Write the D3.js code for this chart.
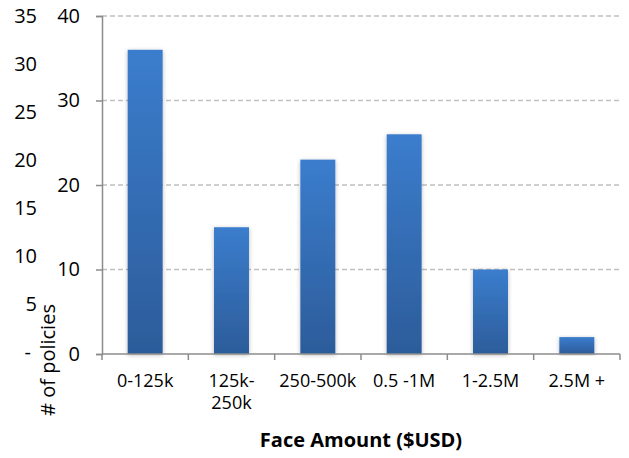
<!DOCTYPE html>
<html>
<head>
<meta charset="utf-8">
<script src="https://cdn.jsdelivr.net/npm/d3@7/dist/d3.min.js"></script>
<style>
  html, body { margin: 0; padding: 0; background: #ffffff; }
  svg { display: block; font-family: "Open Sans", "Noto Sans", sans-serif; }
</style>
</head>
<body>
<svg id="chart" width="629" height="458"></svg>
<script>
// Policy counts by face amount band
const categories = ["0-125k", "125k-250k", "250-500k", "0.5 -1M", "1-2.5M", "2.5M +"];
const policyCounts = [36, 15, 23, 26, 10, 2];
// Category labels that break over two lines
const labelLines = { "125k-250k": ["125k-", "250k"] };
// Primary axis ticks (with gridlines) and the secondary accounting-style ticks
const primaryTicks = [0, 10, 20, 30, 40];
const secondaryTicks = [0, 5, 10, 15, 20, 25, 30, 35];

const svg = d3.select("#chart");
const plot = { left: 102, right: 620, top: 16, bottom: 354 };

const x = d3.scaleBand().domain(categories).range([plot.left, plot.right]).paddingInner(0.595).paddingOuter(0.2975);
const xEdges = d3.scaleBand().domain(categories).range([plot.left, plot.right]).padding(0);
const y = d3.scaleLinear().domain([0, 40]).range([plot.bottom, plot.top]);
const y2 = d3.scaleLinear().domain([0, 35]).range([plot.bottom - 2, plot.top]);

// Bar fill: lighter blue at the top fading to a deeper blue at the base
const defs = svg.append("defs");
const grad = defs.append("linearGradient").attr("id", "barFill")
  .attr("x1", 0).attr("y1", 0).attr("x2", 0).attr("y2", 1);
grad.append("stop").attr("offset", "0%").attr("stop-color", "#3b7dcd");
grad.append("stop").attr("offset", "100%").attr("stop-color", "#2c5c9a");
const shadow = defs.append("filter").attr("id", "barShadow")
  .attr("x", "-30%").attr("y", "-10%").attr("width", "160%").attr("height", "120%");
shadow.append("feDropShadow").attr("dx", 0).attr("dy", 1).attr("stdDeviation", 2.2)
  .attr("flood-color", "#000").attr("flood-opacity", 0.28);

// Dashed gridlines
svg.append("g")
  .selectAll("line")
  .data(primaryTicks.filter(d => d > 0))
  .join("line")
  .attr("x1", plot.left).attr("x2", plot.right)
  .attr("y1", d => y(d)).attr("y2", d => y(d))
  .attr("stroke", "#c0c0c0").attr("stroke-width", 1.5)
  .attr("stroke-dasharray", "5,3");

// Bars
svg.append("g")
  .selectAll("rect")
  .data(categories.map((c, i) => ({ c, v: policyCounts[i] })))
  .join("rect")
  .attr("x", d => x(d.c))
  .attr("width", x.bandwidth())
  .attr("y", d => y(d.v))
  .attr("height", d => y(0) - y(d.v))
  .attr("fill", "url(#barFill)")
  .attr("filter", "url(#barShadow)");

// Primary y axis
const yAxis = svg.append("g")
  .attr("transform", `translate(${plot.left},0)`)
  .call(d3.axisLeft(y).tickValues(primaryTicks).tickSize(6).tickPadding(16).tickFormat(d3.format("d")));
yAxis.select(".domain").attr("stroke", "#8c8c8c").attr("stroke-width", 1.5);
yAxis.selectAll(".tick line").attr("stroke", "#8c8c8c").attr("stroke-width", 1.5);
yAxis.selectAll(".tick text").attr("fill", "#000").style("font-size", "20px")
  .style("font-family", "'Open Sans', sans-serif");

// Secondary y axis labels (zero shown as a dash)
const yAxis2 = svg.append("g")
  .attr("transform", `translate(37,0)`)
  .call(d3.axisLeft(y2).tickValues(secondaryTicks).tickSize(0).tickPadding(0)
    .tickFormat(d => d === 0 ? "-" : d3.format("d")(d)));
yAxis2.select(".domain").remove();
yAxis2.selectAll(".tick text").attr("fill", "#000").style("font-size", "20px")
  .style("font-family", "'Open Sans', sans-serif");
yAxis2.selectAll(".tick").filter(d => d === 0).select("text").attr("dx", "-0.3em");

// X axis: line with ticks at band edges
const xAxisG = svg.append("g").attr("transform", `translate(0,${plot.bottom})`);
xAxisG.append("line")
  .attr("x1", plot.left).attr("x2", plot.right)
  .attr("stroke", "#8c8c8c").attr("stroke-width", 1.5);
const edges = categories.map(c => xEdges(c)).concat([plot.right]);
xAxisG.selectAll("line.edge").data(edges).join("line").attr("class", "edge")
  .attr("x1", d => d).attr("x2", d => d).attr("y1", 0).attr("y2", 6)
  .attr("stroke", "#8c8c8c").attr("stroke-width", 1.5);

// Category labels
const labels = xAxisG.selectAll("text.cat").data(categories).join("text").attr("class", "cat")
  .attr("x", d => x(d) + x.bandwidth() / 2)
  .attr("y", 33)
  .attr("text-anchor", "middle")
  .style("font-size", "18px")
  .attr("fill", "#000");
labels.each(function (d) {
  const lines = labelLines[d] || [d];
  d3.select(this).selectAll("tspan").data(lines).join("tspan")
    .attr("x", x(d) + x.bandwidth() / 2)
    .attr("dy", (l, i) => i === 0 ? 0 : 22)
    .text(l => l);
});

// Axis titles
svg.append("text")
  .attr("x", (plot.left + plot.right) / 2)
  .attr("y", 447)
  .attr("text-anchor", "middle")
  .style("font-size", "20px")
  .style("font-weight", "bold")
  .attr("fill", "#000")
  .text("Face Amount ($USD)");

svg.append("text")
  .attr("transform", "translate(55,360) rotate(-90)")
  .attr("text-anchor", "middle")
  .style("font-size", "20px")
  .attr("fill", "#000")
  .text("# of policies");
</script>
</body>
</html>
